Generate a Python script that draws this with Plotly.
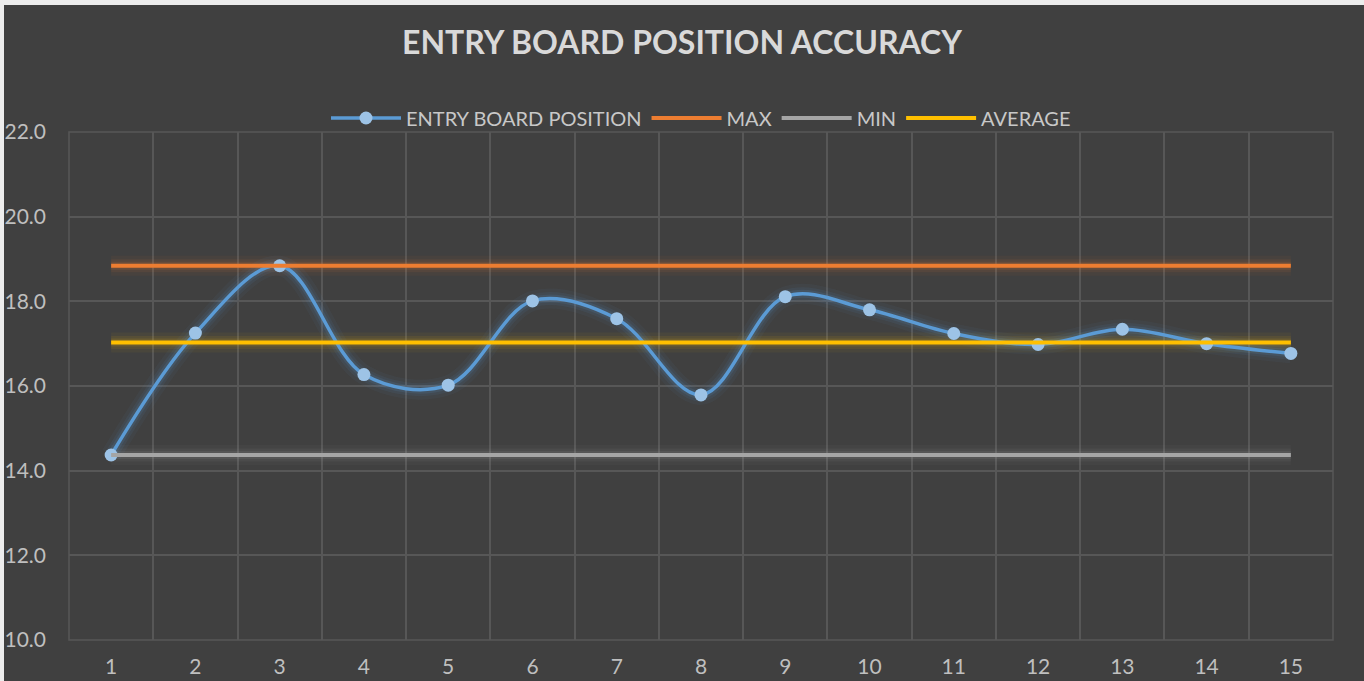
import plotly.graph_objects as go

# Data
runs = [1, 2, 3, 4, 5, 6, 7, 8, 9, 10, 11, 12, 13, 14, 15]
entry_position = [14.37, 17.25, 18.84, 16.27, 16.02, 18.01, 17.59, 15.79,
                  18.11, 17.80, 17.24, 16.98, 17.34, 17.00, 16.77]
max_value = 18.84
min_value = 14.37
avg_value = 17.03

max_line = [max_value] * len(runs)
min_line = [min_value] * len(runs)
avg_line = [avg_value] * len(runs)

BG = "#404040"
GRID = "#575757"
FONT = "Lato"

W, H = 1364, 681
ML, MR, MT, MB = 69, 31, 132, 41
PW, PH = W - ML - MR, H - MT - MB

fig = go.Figure()

# soft glow under each line, roughly like the excel glow effect
glow = [
    (max_line, "linear", "237,125,49"),
    (avg_line, "linear", "255,192,0"),
    (min_line, "linear", "165,165,165"),
    (entry_position, "spline", "91,155,213"),
]
for yvals, shape, rgb in glow:
    for width, alpha in [(20, 0.05), (13, 0.08), (8, 0.12)]:
        fig.add_trace(go.Scatter(
            x=runs, y=yvals, mode="lines",
            line=dict(color=f"rgba({rgb},{alpha})", width=width, shape=shape, smoothing=1),
            showlegend=False, hoverinfo="skip"
        ))

fig.add_trace(go.Scatter(
    x=runs, y=entry_position, name="ENTRY BOARD POSITION",
    mode="lines+markers",
    line=dict(color="#5B9BD5", width=3.5, shape="spline", smoothing=1),
    marker=dict(color="#9DC3E6", size=13)
))
fig.add_trace(go.Scatter(
    x=runs, y=max_line, name="MAX", mode="lines",
    line=dict(color="#ED7D31", width=4)
))
fig.add_trace(go.Scatter(
    x=runs, y=min_line, name="MIN", mode="lines",
    line=dict(color="#A5A5A5", width=4)
))
fig.add_trace(go.Scatter(
    x=runs, y=avg_line, name="AVERAGE", mode="lines",
    line=dict(color="#FFC000", width=4)
))

fig.update_layout(
    width=W, height=H,
    margin=dict(l=ML, r=MR, t=MT, b=MB),
    paper_bgcolor=BG, plot_bgcolor=BG,
    font=dict(family=FONT, color="#BFBFBF", size=21),
    title=dict(text="<b>ENTRY BOARD POSITION ACCURACY</b>",
               x=0.5, xanchor="center", y=1 - 43 / H, yanchor="middle",
               font=dict(family=FONT, size=32, color="#D9D9D9")),
    legend=dict(orientation="h", x=0.5, xanchor="center",
                y=1 + (MT - 118) / PH, yanchor="middle",
                font=dict(family=FONT, size=20, color="#C8C8C8"),
                bgcolor="rgba(0,0,0,0)", itemwidth=70),
    showlegend=True,
    shapes=[
        # grid border on the plot edges (plotly drops gridlines there)
        dict(type="rect", xref="paper", yref="paper", x0=0, x1=1, y0=0, y1=1,
             line=dict(color=GRID, width=1.5), layer="below"),
        # thin light frame on the left and top edges of the image
        dict(type="rect", xref="paper", yref="paper",
             x0=-ML / PW, x1=(-ML + 4) / PW, y0=-MB / PH, y1=1 + MT / PH,
             fillcolor="#EDEDED", line=dict(width=0), layer="above"),
        dict(type="rect", xref="paper", yref="paper",
             x0=-ML / PW, x1=1 + MR / PW, y0=1 + (MT - 5) / PH, y1=1 + MT / PH,
             fillcolor="#EDEDED", line=dict(width=0), layer="above"),
    ],
)

fig.update_xaxes(
    range=[0.5, 15.5], tickvals=runs, ticktext=[str(r) for r in runs],
    showgrid=False, zeroline=False, showline=False, automargin=False,
    ticks="", ticklabelstandoff=12,
    minor=dict(tickvals=[r - 0.5 for r in runs] + [15.5], showgrid=True,
               gridcolor=GRID, gridwidth=1.5),
)
fig.update_yaxes(
    range=[10, 22], dtick=2, tickformat=".1f", automargin=False,
    showgrid=True, gridcolor=GRID, gridwidth=1.5,
    zeroline=False, showline=False, ticks="", ticklabelstandoff=22,
)

fig.write_html("out.html", config={"displayModeBar": False},
               post_script="document.body.style.margin='0';")
